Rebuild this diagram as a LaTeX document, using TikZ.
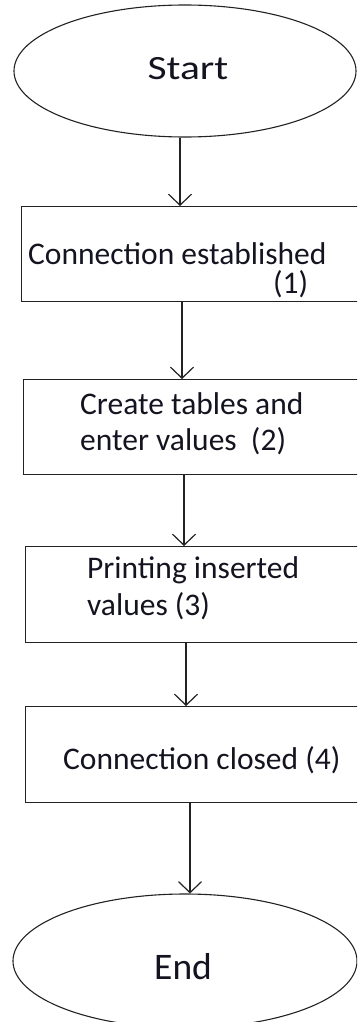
\documentclass[tikz,border=0pt]{standalone}
\usepackage{fontspec}
\usepackage{graphicx}
\setmainfont{Carlito}
\usetikzlibrary{shapes.geometric,arrows.meta}

\tikzset{
  terminal/.style={draw=linec, line width=1.1pt, ellipse, inner sep=0pt},
  stepbox/.style={draw=linec, line width=1.4pt, rectangle, inner sep=0pt, anchor=north west},
  boxtext/.style={anchor=base west, inner sep=0pt, text=textc, font=\fontsize{31.5}{36}\selectfont},
  flow/.style={draw=linec, line width=1.3pt, -{Straight Barb[length=11pt,width=23pt,line width=1.2pt]}},
}
\definecolor{linec}{HTML}{222222}
\definecolor{textc}{HTML}{141420}

\begin{document}
\begin{tikzpicture}[x=1pt, y=-1pt]
  \useasboundingbox (0,0) rectangle (357,1022);
  \clip (0,0) rectangle (357,1022);

  % terminals
  \node[terminal, minimum width=342pt, minimum height=132pt] (start) at (185,71) {};
  \node[terminal, minimum width=344pt, minimum height=134pt] (end) at (185,961) {};
  \node[anchor=base, inner sep=0pt, text=textc, font=\fontsize{34}{40}\selectfont] (starttxt) at (188,80) {\scalebox{1.22}[1]{Start}};
  \node[anchor=base west, inner sep=0pt, text=textc, font=\fontsize{37.5}{42}\selectfont] (endtxt) at (154,979) {End};

  % process steps (they run past the right edge)
  \node[stepbox, minimum width=400pt, minimum height=95pt] (b1) at (21,206) {};
  \node[stepbox, minimum width=400pt, minimum height=95pt] (b2) at (23,379) {};
  \node[stepbox, minimum width=400pt, minimum height=96pt] (b3) at (25,546) {};
  \node[stepbox, minimum width=400pt, minimum height=96pt] (b4) at (25,706) {};

  % step labels
  \node[boxtext] (t1a) at (28,264) {Connection established};
  \node[boxtext] (t1b) at (273,293) {(1)};
  \node[boxtext] (t2a) at (80,414) {Create tables and};
  \node[boxtext] (t2b) at (80,450) {enter values\ \ (2)};
  \node[boxtext] (t3a) at (87,578) {Printing inserted};
  \node[boxtext] (t3b) at (87,615) {values (3)};
  \node[boxtext] (t4) at (63,769) {Connection closed (4)};

  % connectors
  \draw[flow] ([xshift=-5pt]start.south) -- ([xshift=159pt]b1.north west);
  \draw[flow] ([xshift=161pt]b1.south west) -- ([xshift=159pt]b2.north west);
  \draw[flow] ([xshift=161pt]b2.south west) -- ([xshift=159pt]b3.north west);
  \draw[flow] ([xshift=161pt]b3.south west) -- ([xshift=161pt]b4.north west);
  \draw[flow] ([xshift=165pt]b4.south west) -- ([xshift=5pt]end.north);
\end{tikzpicture}
\end{document}
